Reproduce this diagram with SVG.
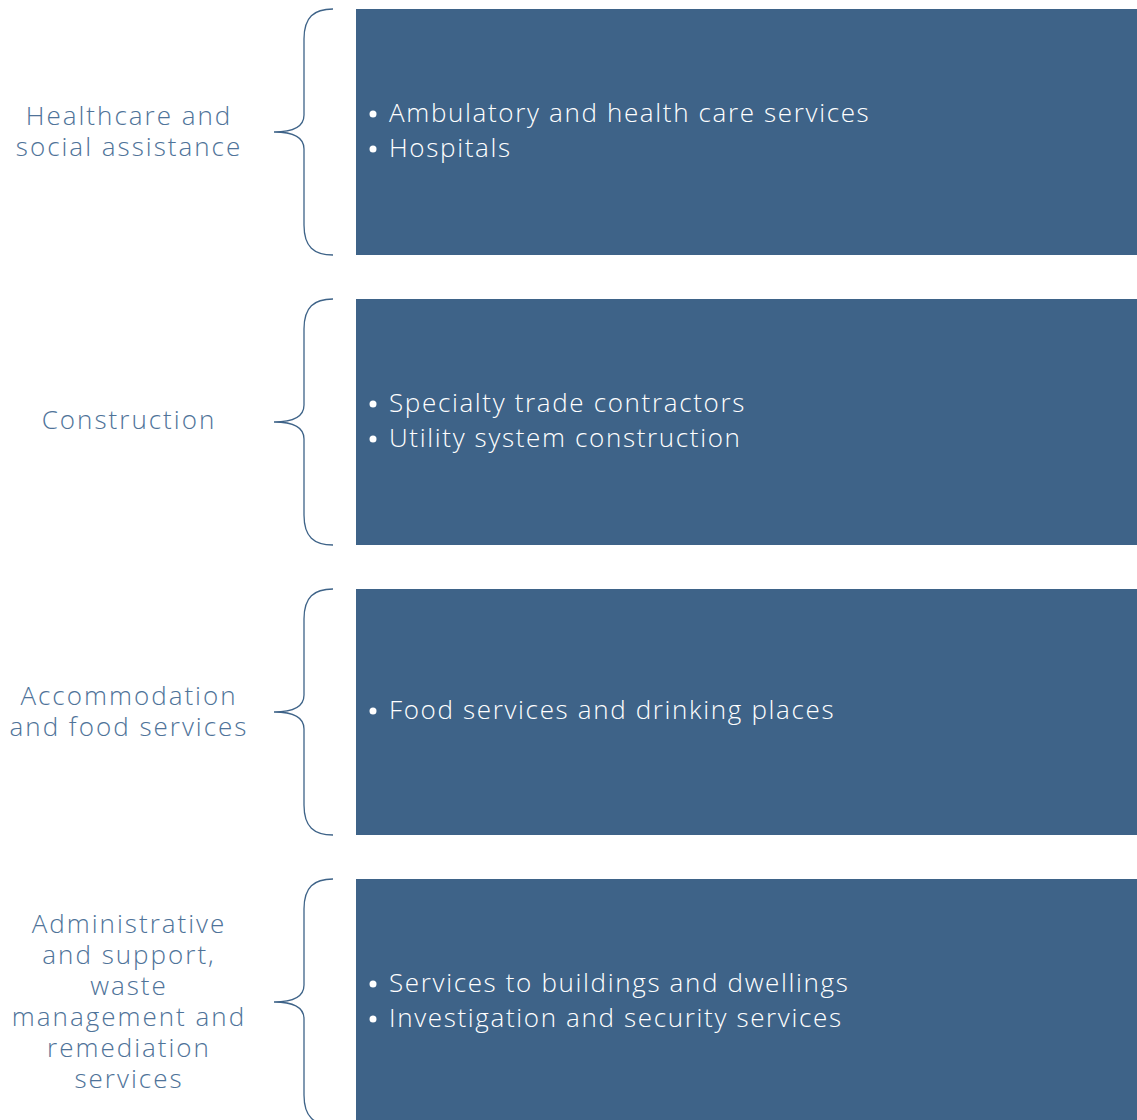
<svg xmlns="http://www.w3.org/2000/svg" width="1137" height="1120" viewBox="0 0 1137 1120">
<style>
.box{fill:#3E6388}
.brace{fill:none;stroke:#3E6388;stroke-width:1.3}
.lbl{font-family:"Open Sans","Liberation Sans",sans-serif;font-weight:300;font-size:26px;fill:#4F7399;text-anchor:middle;letter-spacing:2px}
.itm{font-family:"Open Sans","Liberation Sans",sans-serif;font-weight:300;font-size:26px;fill:#FFFFFF;letter-spacing:1.65px}
</style>
<defs>
<path id="br" d="M333,0 C314,0 304,8 304,30 L304,106 C304,118 292,123 274,123 C292,123 304,128 304,140 L304,216 C304,238 314,246 333,246"/>
</defs>
<g id="connectors">
<use href="#br" class="brace" transform="translate(0,9)"/>
<use href="#br" class="brace" transform="translate(0,299)"/>
<use href="#br" class="brace" transform="translate(0,589)"/>
<use href="#br" class="brace" transform="translate(0,879)"/>
</g>
<g id="node1">
<text class="lbl" x="129"><tspan x="129" y="125">Healthcare and</tspan><tspan x="129" y="156">social assistance</tspan></text>
<rect class="box" x="356" y="9" width="781" height="246"/>
<circle cx="373" cy="114" r="3.5" fill="#fff"/><circle cx="373" cy="149" r="3.5" fill="#fff"/>
<text class="itm"><tspan x="389" y="122">Ambulatory and health care services</tspan><tspan x="389" y="157">Hospitals</tspan></text>
</g>
<g id="node2">
<text class="lbl" x="129" y="429">Construction</text>
<rect class="box" x="356" y="299" width="781" height="246"/>
<circle cx="373" cy="404" r="3.5" fill="#fff"/><circle cx="373" cy="439" r="3.5" fill="#fff"/>
<text class="itm"><tspan x="389" y="412">Specialty trade contractors</tspan><tspan x="389" y="447">Utility system construction</tspan></text>
</g>
<g id="node3">
<text class="lbl"><tspan x="129" y="705">Accommodation</tspan><tspan x="129" y="736">and food services</tspan></text>
<rect class="box" x="356" y="589" width="781" height="246"/>
<circle cx="373" cy="711" r="3.5" fill="#fff"/>
<text class="itm" x="389" y="719">Food services and drinking places</text>
</g>
<g id="node4">
<text class="lbl"><tspan x="129" y="933">Administrative</tspan><tspan x="129" y="964">and support,</tspan><tspan x="129" y="995">waste</tspan><tspan x="129" y="1026">management and</tspan><tspan x="129" y="1057">remediation</tspan><tspan x="129" y="1088">services</tspan></text>
<rect class="box" x="356" y="879" width="781" height="246"/>
<circle cx="373" cy="984" r="3.5" fill="#fff"/><circle cx="373" cy="1019" r="3.5" fill="#fff"/>
<text class="itm"><tspan x="389" y="992">Services to buildings and dwellings</tspan><tspan x="389" y="1027">Investigation and security services</tspan></text>
</g>
</svg>
